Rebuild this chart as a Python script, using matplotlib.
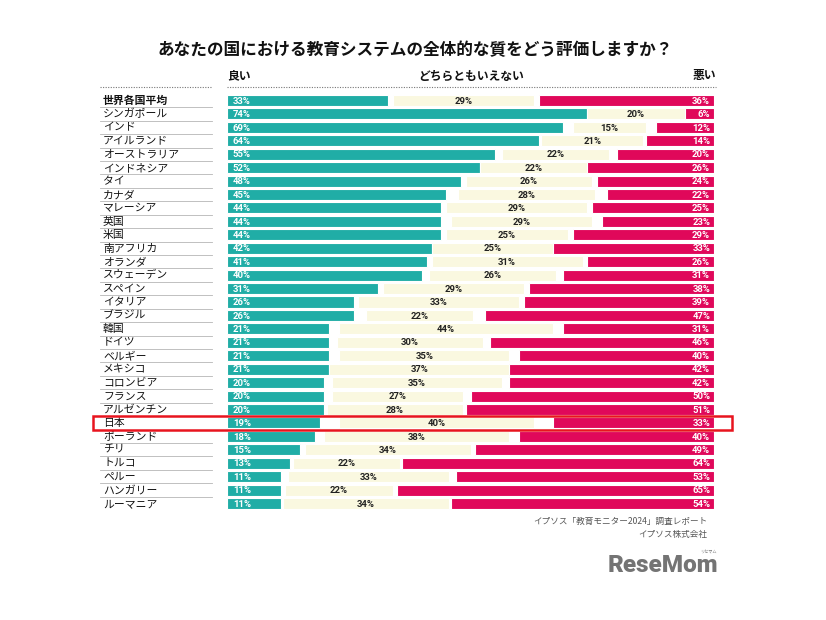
import matplotlib
matplotlib.use("Agg")
import matplotlib.pyplot as plt
from matplotlib.patches import Rectangle
from matplotlib.transforms import blended_transform_factory

plt.rcParams['font.family'] = ['Noto Sans CJK JP', 'DejaVu Sans']

countries = ["世界各国平均", "シンガポール", "インド", "アイルランド", "オーストラリア", "インドネシア",
             "タイ", "カナダ", "マレーシア", "英国", "米国", "南アフリカ", "オランダ", "スウェーデン",
             "スペイン", "イタリア", "ブラジル", "韓国", "ドイツ", "ベルギー", "メキシコ", "コロンビア",
             "フランス", "アルゼンチン", "日本", "ポーランド", "チリ", "トルコ", "ペルー", "ハンガリー", "ルーマニア"]
good = [33, 74, 69, 64, 55, 52, 48, 45, 44, 44, 44, 42, 41, 40, 31, 26, 26, 21, 21, 21, 21, 20, 20, 20, 19, 18, 15, 13, 11, 11, 11]
neutral = [29, 20, 15, 21, 22, 22, 26, 28, 29, 29, 25, 25, 31, 26, 29, 33, 22, 44, 30, 35, 37, 35, 27, 28, 40, 38, 34, 22, 33, 22, 34]
bad = [36, 6, 12, 14, 20, 26, 24, 22, 25, 23, 29, 33, 26, 31, 38, 39, 47, 31, 46, 40, 42, 42, 50, 51, 33, 40, 49, 64, 53, 65, 54]
header = ["良い", "どちらともいえない", "悪い"]
title = "あなたの国における教育システムの全体的な質をどう評価しますか？"
source = ["イプソス「教育モニター2024」調査レポート", "イプソス株式会社"]
highlight = "日本"

TEAL = "#20ADA6"
CREAM = "#FAF8E0"
RED = "#E0085A"

W, H = 826, 620
fig = plt.figure(figsize=(W / 100, H / 100), dpi=100)
fig.patch.set_facecolor("white")

def fx(px):
    return px / W

def fy(py):
    return 1 - py / H

n = len(countries)
row0, rowN = 100.5, 503.5
step = (rowN - row0) / (n - 1)
top_px = row0 - step / 2
bot_px = rowN + step / 2
x0, x1 = 227, 714
ax = fig.add_axes([fx(x0), fy(bot_px), fx(x1) - fx(x0), (bot_px - top_px) / H])
ax.set_xlim(0, 100)
ax.set_ylim(n - 0.5, -0.5)
ax.axis("off")

bh = 0.82
ys = list(range(n))
ax.barh(ys, good, left=0, height=bh, color=TEAL, edgecolor="white", linewidth=0.8)
nleft = [(g + (100 - b)) / 2 - nv / 2 for g, nv, b in zip(good, neutral, bad)]
ax.barh(ys, neutral, left=nleft, height=bh, color=CREAM, edgecolor="white", linewidth=0.8)
ax.barh(ys, bad, left=[100 - b for b in bad], height=bh, color=RED, edgecolor="white", linewidth=0.8)

vfont = dict(family=["Roboto", "DejaVu Sans"], fontsize=6.8, fontweight="bold", va="center")
for i in range(n):
    ax.text(1.2, i + 0.05, f"{good[i]}%", color="white", ha="left", **vfont)
    ax.text(nleft[i] + neutral[i] / 2, i + 0.05, f"{neutral[i]}%", color="#222222", ha="center", **vfont)
    ax.text(99.2, i + 0.05, f"{bad[i]}%", color="white", ha="right", **vfont)

tr = blended_transform_factory(fig.transFigure, ax.transData)
for i, c in enumerate(countries):
    ax.text(fx(103), i + 0.02, c, transform=tr, ha="left", va="center", fontsize=7.8,
            fontweight="bold" if i == 0 else "normal", color="#111111")
    if i < n - 1:
        ax.plot([fx(100), fx(212)], [i + 0.5, i + 0.5], transform=tr, color="#b5b5b5",
                lw=0.6, clip_on=False)

# highlight rectangle
hi = countries.index(highlight)
rect = Rectangle((fx(93), hi - 0.55), fx(732) - fx(93), 1.1, transform=tr, fill=False,
                 edgecolor="#E8141E", linewidth=1.8, clip_on=False)
fig.add_artist(rect)

# title and header
fig.text(fx(415), fy(50), title, ha="center", va="center", fontsize=12, fontweight="bold", color="#111111")
fig.text(fx(227), fy(76), header[0], ha="left", va="center", fontsize=8.5, fontweight="bold", color="#111111")
fig.text(fx(471), fy(76), header[1], ha="center", va="center", fontsize=8.5, fontweight="bold", color="#111111")
fig.text(fx(716), fy(76), header[2], ha="right", va="center", fontsize=8.5, fontweight="bold", color="#111111")
for a, b in [(100, 212), (227, 716)]:
    fig.add_artist(plt.Line2D([fx(a), fx(b)], [fy(87), fy(87)], transform=fig.transFigure,
                              color="#777777", lw=0.8, linestyle=(0, (1, 1.3))))

# source
fig.text(fx(707), fy(521), source[0], ha="right", va="center", fontsize=6.2, color="#555555")
fig.text(fx(707), fy(534), source[1], ha="right", va="center", fontsize=6.2, color="#555555")

# logo
fig.text(fx(718), fy(566), "ReseMom", ha="right", va="center", fontsize=17.5, fontweight="heavy",
         family=["Roboto", "DejaVu Sans"], color="#747474")
fig.text(fx(708), fy(552), "リセマム", ha="center", va="center", fontsize=3, color="#777777")

fig.savefig("out.png", dpi=100, facecolor="white")
